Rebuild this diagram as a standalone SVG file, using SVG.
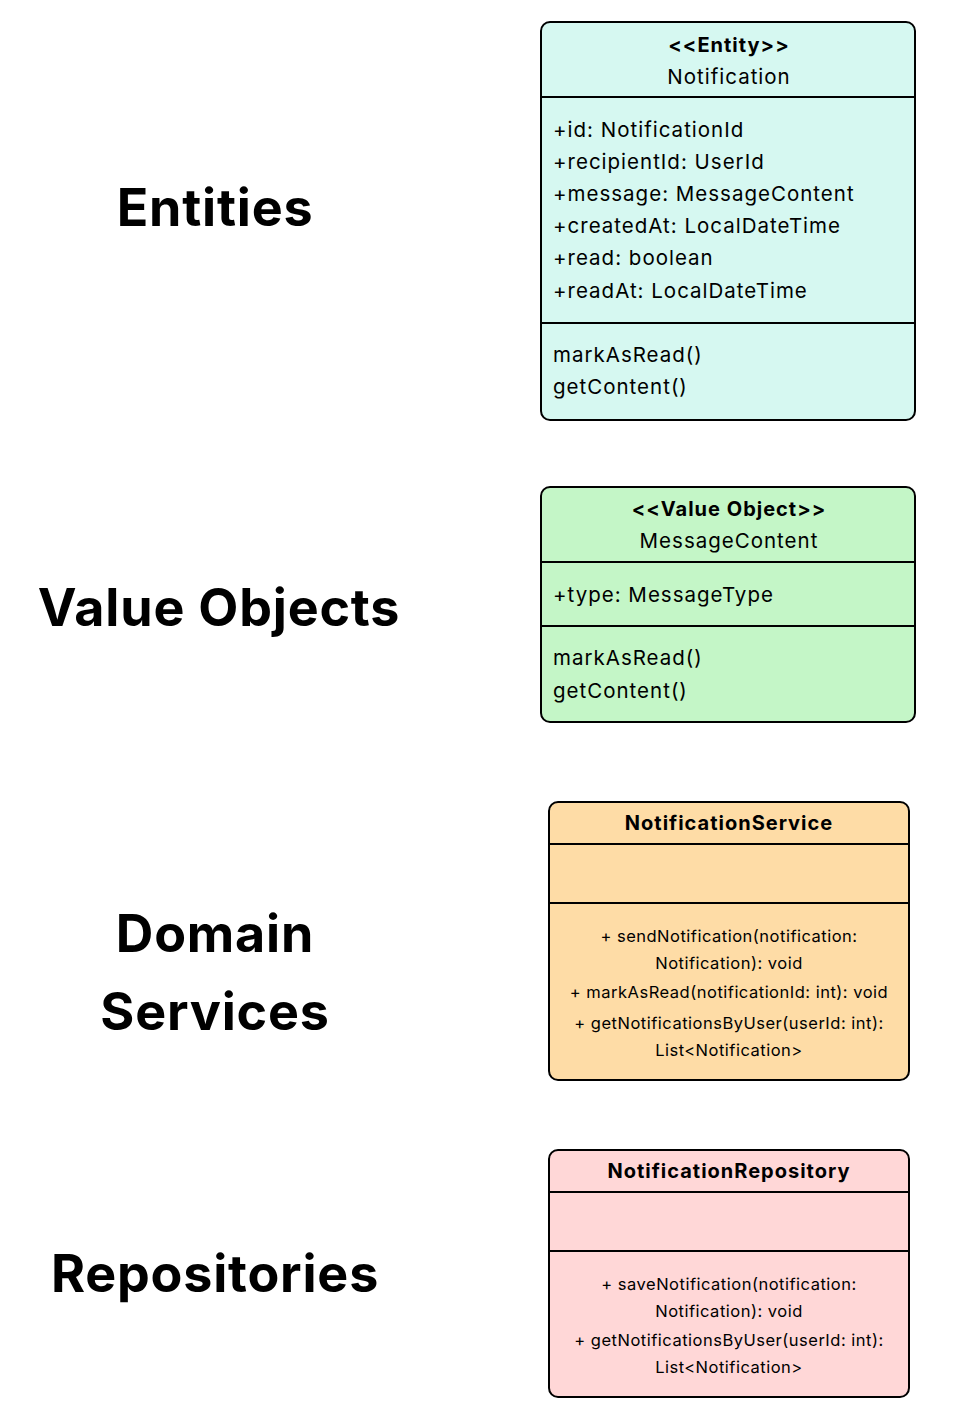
<svg xmlns="http://www.w3.org/2000/svg" width="979" height="1409" viewBox="0 0 979 1409">
<style>
.lbl{font-family:Inter,"Noto Sans",sans-serif;font-weight:700;font-size:52px;letter-spacing:0.8px;fill:#000;text-anchor:middle}
.box{stroke:#000;stroke-width:2}
.div{stroke:#000;stroke-width:2}
.st{font-family:Inter,"Noto Sans",sans-serif;font-weight:700;font-size:20px;letter-spacing:1px;fill:#000;text-anchor:middle}
.nm{font-family:Inter,"Noto Sans",sans-serif;font-size:20.5px;letter-spacing:1px;fill:#000;text-anchor:middle}
.at{font-family:Inter,"Noto Sans",sans-serif;font-size:20.5px;letter-spacing:1px;fill:#000}
.mt{font-family:Inter,"Noto Sans",sans-serif;font-size:16.5px;letter-spacing:0.5px;fill:#000;text-anchor:middle}
</style>
<rect width="979" height="1409" fill="#fff"/>
<g id="label-entities"><text class="lbl" x="215" y="226">Entities</text></g>
<g id="label-value-objects"><text class="lbl" x="219" y="626">Value Objects</text></g>
<g id="label-domain-services"><text class="lbl" x="215" y="952">Domain</text><text class="lbl" x="215" y="1030">Services</text></g>
<g id="label-repositories"><text class="lbl" x="215" y="1292">Repositories</text></g>

<g id="notification">
<rect class="box" x="541" y="22" width="374" height="398" rx="9" fill="#d6f8f1"/>
<line class="div" x1="541" y1="97" x2="915" y2="97"/>
<line class="div" x1="541" y1="323" x2="915" y2="323"/>
<text class="st" x="729" y="52">&lt;&lt;Entity&gt;&gt;</text>
<text class="nm" x="729" y="84">Notification</text>
<text class="at" x="553" y="137">+id: NotificationId</text>
<text class="at" x="553" y="169">+recipientId: UserId</text>
<text class="at" x="553" y="201">+message: MessageContent</text>
<text class="at" x="553" y="233">+createdAt: LocalDateTime</text>
<text class="at" x="553" y="265">+read: boolean</text>
<text class="at" x="553" y="298">+readAt: LocalDateTime</text>
<text class="at" x="553" y="362">markAsRead()</text>
<text class="at" x="553" y="394">getContent()</text>
</g>

<g id="message-content">
<rect class="box" x="541" y="487" width="374" height="235" rx="9" fill="#c4f6c7"/>
<line class="div" x1="541" y1="562" x2="915" y2="562"/>
<line class="div" x1="541" y1="626" x2="915" y2="626"/>
<text class="st" x="729" y="516">&lt;&lt;Value Object&gt;&gt;</text>
<text class="nm" x="729" y="548">MessageContent</text>
<text class="at" x="553" y="602">+type: MessageType</text>
<text class="at" x="553" y="665">markAsRead()</text>
<text class="at" x="553" y="698">getContent()</text>
</g>

<g id="notification-service">
<rect class="box" x="549" y="802" width="360" height="278" rx="9" fill="#fedca6"/>
<line class="div" x1="549" y1="844" x2="909" y2="844"/>
<line class="div" x1="549" y1="903" x2="909" y2="903"/>
<text class="st" x="729" y="830">NotificationService</text>
<text class="mt" x="729" y="942">+ sendNotification(notification:</text>
<text class="mt" x="729" y="969">Notification): void</text>
<text class="mt" x="729" y="998">+ markAsRead(notificationId: int): void</text>
<text class="mt" x="729" y="1029">+ getNotificationsByUser(userId: int):</text>
<text class="mt" x="729" y="1056">List&lt;Notification&gt;</text>
</g>

<g id="notification-repository">
<rect class="box" x="549" y="1150" width="360" height="247" rx="9" fill="#ffd7d7"/>
<line class="div" x1="549" y1="1192" x2="909" y2="1192"/>
<line class="div" x1="549" y1="1251" x2="909" y2="1251"/>
<text class="st" x="729" y="1178">NotificationRepository</text>
<text class="mt" x="729" y="1290">+ saveNotification(notification:</text>
<text class="mt" x="729" y="1317">Notification): void</text>
<text class="mt" x="729" y="1346">+ getNotificationsByUser(userId: int):</text>
<text class="mt" x="729" y="1373">List&lt;Notification&gt;</text>
</g>

<g id="connectors"></g>
</svg>
